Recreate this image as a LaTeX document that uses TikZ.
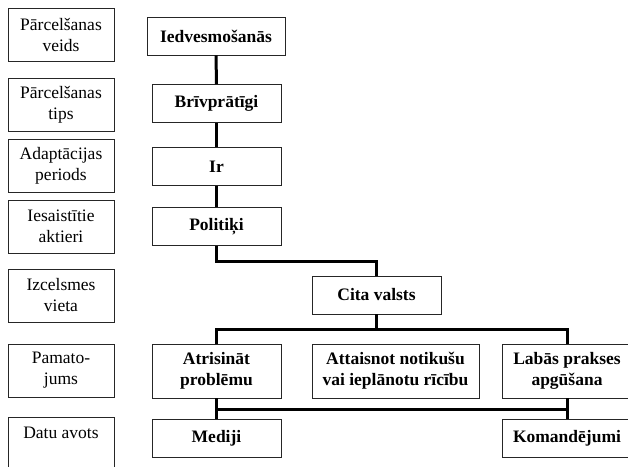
\documentclass[tikz,border=0pt]{standalone}
\usepackage{fontspec}
\setmainfont{Liberation Serif}
\begin{document}
\begin{tikzpicture}[x=1pt,y=-1pt,
  lbox/.style={draw=black!85,line width=0.9pt,rectangle,inner sep=0pt,minimum width=106pt,minimum height=53pt,align=center,font=\fontsize{17.5}{21}\selectfont},
  cbox/.style={draw=black!85,line width=0.9pt,rectangle,inner sep=0pt,minimum width=129pt,minimum height=38pt,align=center,font=\fontsize{17.5}{21}\selectfont\bfseries},
  conn/.style={line width=3pt,black}]
\useasboundingbox (0,0) rectangle (628,466);
\fill[white] (0,0) rectangle (628,466);
% left column
\node[lbox] (l1) at (61,34.5) {Pārcelšanas\\veids};
\node[lbox] (l2) at (61,104.5) {Pārcelšanas\\tips};
\node[lbox] (l3) at (61,165.5) {Adaptācijas\\periods};
\node[lbox] (l4) at (61,226.5) {Iesaistītie\\aktieri};
\node[lbox] (l5) at (61,295.5) {Izcelsmes\\vieta};
\node[lbox] (l6) at (61,370.5) {Pamato-\\jums};
\node[lbox] (l7) at (61,443.5) {Datu avots\\\mbox{}};
% centre column
\node[cbox,minimum width=138pt] (a) at (216,36) {Iedvesmošanās};
\node[cbox] (b) at (216.5,103.5) {Brīvprātīgi};
\node[cbox] (c) at (216.5,166.5) {Ir};
\node[cbox] (d) at (216.5,226.5) {Politiķi};
\node[cbox] (e) at (376.5,295) {Cita valsts};
\node[cbox,minimum height=54pt] (f) at (216.5,371) {Atrisināt\\problēmu};
\node[cbox,minimum height=54pt,minimum width=167pt] (g) at (395.5,371) {Attaisnot notikušu\\vai ieplānotu rīcību};
\node[cbox,minimum height=54pt,minimum width=130pt] (h) at (567,371) {Labās prakses\\apgūšana};
\node[cbox] (i) at (216.5,438.5) {Mediji};
\node[cbox,minimum width=130pt] (j) at (567,438.5) {Komandējumi};
% connectors
\coordinate (k1) at (216.5,261);
\coordinate (k2) at (376.5,261);
\coordinate (m1) at (216.5,329);
\coordinate (m2) at (376.5,329);
\coordinate (m3) at (567,329);
\coordinate (n1) at (216.5,409);
\coordinate (n2) at (567,409);
\draw[conn] (a.south) -- (b.north);
\draw[conn] (b.south) -- (c.north);
\draw[conn] (c.south) -- (d.north);
\draw[conn] (d.south) -- (k1) -- (k2) -- (e.north);
\draw[conn] (e.south) -- (m2);
\draw[conn] (f.north) -- (m1) -- (m3) -- (h.north);
\draw[conn] (f.south) -- (i.north);
\draw[conn] (h.south) -- (j.north);
\draw[conn] (n1) -- (n2);
\end{tikzpicture}
\end{document}
